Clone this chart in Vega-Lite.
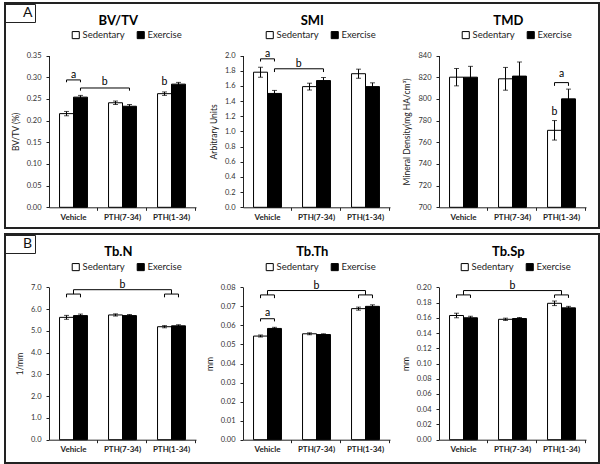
{
  "$schema": "https://vega.github.io/schema/vega-lite/v6.json",
  "padding": {"left": 3, "right": 3, "top": 2, "bottom": 2},
  "spacing": 4,
  "resolve": {"scale": {"shape": "independent"}, "legend": {"shape": "independent"}},
  "datasets": {
    "bvtv": [
      {"group": "Vehicle", "cond": "Sedentary", "mean": 0.216, "lo": 0.211, "hi": 0.221},
      {"group": "Vehicle", "cond": "Exercise", "mean": 0.254, "lo": 0.250, "hi": 0.258},
      {"group": "PTH(7-34)", "cond": "Sedentary", "mean": 0.241, "lo": 0.237, "hi": 0.245},
      {"group": "PTH(7-34)", "cond": "Exercise", "mean": 0.233, "lo": 0.229, "hi": 0.237},
      {"group": "PTH(1-34)", "cond": "Sedentary", "mean": 0.262, "lo": 0.258, "hi": 0.266},
      {"group": "PTH(1-34)", "cond": "Exercise", "mean": 0.284, "lo": 0.280, "hi": 0.288}
    ],
    "bvtv_br": [
      {"id": "a", "o": 0, "group": "Vehicle", "cond": "Sedentary", "y": 0.2883},
      {"id": "a", "o": 1, "group": "Vehicle", "cond": "Sedentary", "y": 0.2937},
      {"id": "a", "o": 2, "group": "Vehicle", "cond": "Exercise", "y": 0.2937},
      {"id": "a", "o": 3, "group": "Vehicle", "cond": "Exercise", "y": 0.2883},
      {"id": "b", "o": 0, "group": "Vehicle", "cond": "Exercise", "y": 0.2689},
      {"id": "b", "o": 1, "group": "Vehicle", "cond": "Exercise", "y": 0.2751},
      {"id": "b", "o": 2, "group": "PTH(7-34)", "cond": "Exercise", "y": 0.2751},
      {"id": "b", "o": 3, "group": "PTH(7-34)", "cond": "Exercise", "y": 0.2689}
    ],
    "bvtv_lc": [{"group": "Vehicle", "y": 0.306, "label": "a"}],
    "bvtv_lm": [{"group": "Vehicle", "y": 0.290, "label": "b"}],
    "bvtv_lx": [{"group": "PTH(1-34)", "cond": "Sedentary", "y": 0.290, "label": "b"}],
    "smi": [
      {"group": "Vehicle", "cond": "Sedentary", "mean": 1.78, "lo": 1.715, "hi": 1.845},
      {"group": "Vehicle", "cond": "Exercise", "mean": 1.50, "lo": 1.46, "hi": 1.54},
      {"group": "PTH(7-34)", "cond": "Sedentary", "mean": 1.59, "lo": 1.545, "hi": 1.635},
      {"group": "PTH(7-34)", "cond": "Exercise", "mean": 1.67, "lo": 1.63, "hi": 1.71},
      {"group": "PTH(1-34)", "cond": "Sedentary", "mean": 1.76, "lo": 1.70, "hi": 1.82},
      {"group": "PTH(1-34)", "cond": "Exercise", "mean": 1.59, "lo": 1.54, "hi": 1.64}
    ],
    "smi_br": [
      {"id": "a", "o": 0, "group": "Vehicle", "cond": "Sedentary", "y": 1.921},
      {"id": "a", "o": 1, "group": "Vehicle", "cond": "Sedentary", "y": 1.956},
      {"id": "a", "o": 2, "group": "Vehicle", "cond": "Exercise", "y": 1.956},
      {"id": "a", "o": 3, "group": "Vehicle", "cond": "Exercise", "y": 1.921},
      {"id": "b", "o": 0, "group": "Vehicle", "cond": "Exercise", "y": 1.782},
      {"id": "b", "o": 1, "group": "Vehicle", "cond": "Exercise", "y": 1.825},
      {"id": "b", "o": 2, "group": "PTH(7-34)", "cond": "Exercise", "y": 1.825},
      {"id": "b", "o": 3, "group": "PTH(7-34)", "cond": "Exercise", "y": 1.782}
    ],
    "smi_lc": [{"group": "Vehicle", "y": 2.022, "label": "a"}],
    "smi_lm": [{"group": "Vehicle", "y": 1.89, "label": "b"}],
    "tmd": [
      {"group": "Vehicle", "cond": "Sedentary", "mean": 820, "lo": 812, "hi": 828},
      {"group": "Vehicle", "cond": "Exercise", "mean": 820, "lo": 810, "hi": 830},
      {"group": "PTH(7-34)", "cond": "Sedentary", "mean": 818.5, "lo": 808, "hi": 829},
      {"group": "PTH(7-34)", "cond": "Exercise", "mean": 821, "lo": 808, "hi": 834},
      {"group": "PTH(1-34)", "cond": "Sedentary", "mean": 771, "lo": 762, "hi": 780},
      {"group": "PTH(1-34)", "cond": "Exercise", "mean": 800, "lo": 791, "hi": 809}
    ],
    "tmd_br": [
      {"id": "a", "o": 0, "group": "PTH(1-34)", "cond": "Sedentary", "y": 812},
      {"id": "a", "o": 1, "group": "PTH(1-34)", "cond": "Sedentary", "y": 815},
      {"id": "a", "o": 2, "group": "PTH(1-34)", "cond": "Exercise", "y": 815},
      {"id": "a", "o": 3, "group": "PTH(1-34)", "cond": "Exercise", "y": 812}
    ],
    "tmd_lc": [{"group": "PTH(1-34)", "y": 823, "label": "a"}],
    "tmd_lx": [{"group": "PTH(1-34)", "cond": "Sedentary", "y": 788, "label": "b"}],
    "tbn": [
      {"group": "Vehicle", "cond": "Sedentary", "mean": 5.62, "lo": 5.53, "hi": 5.71},
      {"group": "Vehicle", "cond": "Exercise", "mean": 5.70, "lo": 5.63, "hi": 5.77},
      {"group": "PTH(7-34)", "cond": "Sedentary", "mean": 5.73, "lo": 5.68, "hi": 5.78},
      {"group": "PTH(7-34)", "cond": "Exercise", "mean": 5.70, "lo": 5.65, "hi": 5.75},
      {"group": "PTH(1-34)", "cond": "Sedentary", "mean": 5.19, "lo": 5.14, "hi": 5.24},
      {"group": "PTH(1-34)", "cond": "Exercise", "mean": 5.23, "lo": 5.18, "hi": 5.28}
    ],
    "tbn_br": [
      {"id": "L", "o": 0, "group": "Vehicle", "cond": "Sedentary", "y": 6.54},
      {"id": "L", "o": 1, "group": "Vehicle", "cond": "Sedentary", "y": 6.69},
      {"id": "L", "o": 2, "group": "Vehicle", "cond": "Exercise", "y": 6.69},
      {"id": "L", "o": 3, "group": "Vehicle", "cond": "Exercise", "y": 6.54},
      {"id": "R", "o": 0, "group": "PTH(1-34)", "cond": "Sedentary", "y": 6.54},
      {"id": "R", "o": 1, "group": "PTH(1-34)", "cond": "Sedentary", "y": 6.69},
      {"id": "R", "o": 2, "group": "PTH(1-34)", "cond": "Exercise", "y": 6.69},
      {"id": "R", "o": 3, "group": "PTH(1-34)", "cond": "Exercise", "y": 6.54}
    ],
    "tbn_cr": [
      {"g1": "Vehicle", "g2": "Vehicle", "y1": 6.69, "y2": 6.89},
      {"g1": "PTH(1-34)", "g2": "PTH(1-34)", "y1": 6.69, "y2": 6.89},
      {"g1": "Vehicle", "g2": "PTH(1-34)", "y1": 6.89, "y2": 6.89}
    ],
    "tbn_lc": [{"group": "PTH(7-34)", "y": 7.12, "label": "b"}],
    "tbth": [
      {"group": "Vehicle", "cond": "Sedentary", "mean": 0.0544, "lo": 0.0539, "hi": 0.0549},
      {"group": "Vehicle", "cond": "Exercise", "mean": 0.0584, "lo": 0.0578, "hi": 0.0590},
      {"group": "PTH(7-34)", "cond": "Sedentary", "mean": 0.0556, "lo": 0.0551, "hi": 0.0561},
      {"group": "PTH(7-34)", "cond": "Exercise", "mean": 0.0552, "lo": 0.0548, "hi": 0.0556},
      {"group": "PTH(1-34)", "cond": "Sedentary", "mean": 0.0688, "lo": 0.0680, "hi": 0.0696},
      {"group": "PTH(1-34)", "cond": "Exercise", "mean": 0.0700, "lo": 0.0692, "hi": 0.0708}
    ],
    "tbth_br": [
      {"id": "L", "o": 0, "group": "Vehicle", "cond": "Sedentary", "y": 0.0743},
      {"id": "L", "o": 1, "group": "Vehicle", "cond": "Sedentary", "y": 0.0760},
      {"id": "L", "o": 2, "group": "Vehicle", "cond": "Exercise", "y": 0.0760},
      {"id": "L", "o": 3, "group": "Vehicle", "cond": "Exercise", "y": 0.0743},
      {"id": "R", "o": 0, "group": "PTH(1-34)", "cond": "Sedentary", "y": 0.0743},
      {"id": "R", "o": 1, "group": "PTH(1-34)", "cond": "Sedentary", "y": 0.0760},
      {"id": "R", "o": 2, "group": "PTH(1-34)", "cond": "Exercise", "y": 0.0760},
      {"id": "R", "o": 3, "group": "PTH(1-34)", "cond": "Exercise", "y": 0.0743},
      {"id": "A", "o": 0, "group": "Vehicle", "cond": "Sedentary", "y": 0.0621},
      {"id": "A", "o": 1, "group": "Vehicle", "cond": "Sedentary", "y": 0.0635},
      {"id": "A", "o": 2, "group": "Vehicle", "cond": "Exercise", "y": 0.0635},
      {"id": "A", "o": 3, "group": "Vehicle", "cond": "Exercise", "y": 0.0621}
    ],
    "tbth_cr": [
      {"g1": "Vehicle", "g2": "Vehicle", "y1": 0.0760, "y2": 0.0783},
      {"g1": "PTH(1-34)", "g2": "PTH(1-34)", "y1": 0.0760, "y2": 0.0783},
      {"g1": "Vehicle", "g2": "PTH(1-34)", "y1": 0.0783, "y2": 0.0783}
    ],
    "tbth_lc": [{"group": "Vehicle", "y": 0.0664, "label": "a"}, {"group": "PTH(7-34)", "y": 0.0809, "label": "b"}],
    "tbsp": [
      {"group": "Vehicle", "cond": "Sedentary", "mean": 0.163, "lo": 0.160, "hi": 0.166},
      {"group": "Vehicle", "cond": "Exercise", "mean": 0.160, "lo": 0.158, "hi": 0.162},
      {"group": "PTH(7-34)", "cond": "Sedentary", "mean": 0.158, "lo": 0.1565, "hi": 0.1595},
      {"group": "PTH(7-34)", "cond": "Exercise", "mean": 0.159, "lo": 0.1575, "hi": 0.1605},
      {"group": "PTH(1-34)", "cond": "Sedentary", "mean": 0.179, "lo": 0.176, "hi": 0.182},
      {"group": "PTH(1-34)", "cond": "Exercise", "mean": 0.173, "lo": 0.171, "hi": 0.175}
    ],
    "tbsp_br": [
      {"id": "L", "o": 0, "group": "Vehicle", "cond": "Sedentary", "y": 0.1861},
      {"id": "L", "o": 1, "group": "Vehicle", "cond": "Sedentary", "y": 0.190},
      {"id": "L", "o": 2, "group": "Vehicle", "cond": "Exercise", "y": 0.190},
      {"id": "L", "o": 3, "group": "Vehicle", "cond": "Exercise", "y": 0.1861},
      {"id": "R", "o": 0, "group": "PTH(1-34)", "cond": "Sedentary", "y": 0.1861},
      {"id": "R", "o": 1, "group": "PTH(1-34)", "cond": "Sedentary", "y": 0.190},
      {"id": "R", "o": 2, "group": "PTH(1-34)", "cond": "Exercise", "y": 0.190},
      {"id": "R", "o": 3, "group": "PTH(1-34)", "cond": "Exercise", "y": 0.1861}
    ],
    "tbsp_cr": [
      {"g1": "Vehicle", "g2": "Vehicle", "y1": 0.190, "y2": 0.1957},
      {"g1": "PTH(1-34)", "g2": "PTH(1-34)", "y1": 0.190, "y2": 0.1957},
      {"g1": "Vehicle", "g2": "PTH(1-34)", "y1": 0.1957, "y2": 0.1957}
    ],
    "tbsp_lc": [{"group": "PTH(7-34)", "y": 0.2022, "label": "b"}]
  },
  "vconcat": [
    {
      "width": 594,
      "height": 225,
      "resolve": {"scale": {"x": "independent", "y": "independent", "xOffset": "independent", "fill": "independent"}, "legend": {"fill": "independent"}},
      "layer": [
        {
          "layer": [
            {"data": {"name": "bvtv"}, "mark": {"type": "bar", "stroke": "black", "strokeWidth": 1},
             "encoding": {
               "x": {"field": "group", "type": "nominal", "scale": {"domain": ["Vehicle", "PTH(7-34)", "PTH(1-34)"], "range": [44, 191], "paddingInner": 0.43, "paddingOuter": 0.215}, "axis": {"title": null, "offset": -20.7, "orient": "bottom"}},
               "xOffset": {"field": "cond", "type": "nominal", "scale": {"domain": ["Sedentary", "Exercise"], "paddingInner": 0, "paddingOuter": 0}},
               "y": {"field": "mean", "type": "quantitative", "scale": {"domain": [0, 0.35], "range": [204.3, 52.5], "nice": false}, "axis": {"title": "BV/TV (%)", "orient": "left", "offset": -44, "values": [0, 0.05, 0.1, 0.15, 0.2, 0.25, 0.3, 0.35], "tickCount": 30, "format": ".2f", "labelOverlap": false}},
               "fill": {"field": "cond", "type": "nominal", "scale": {"domain": ["Sedentary", "Exercise"], "range": ["white", "black"]}, "legend": {"title": null, "legendX": 66, "legendY": 27}}
             }},
            {"data": {"name": "bvtv"}, "mark": "rule",
             "encoding": {"x": {"field": "group", "type": "nominal"}, "xOffset": {"field": "cond", "type": "nominal"}, "y": {"field": "lo", "type": "quantitative"}, "y2": {"field": "hi"}}},
            {"data": {"name": "bvtv"}, "mark": {"type": "tick", "size": 5, "thickness": 1, "color": "black"},
             "encoding": {"x": {"field": "group", "type": "nominal"}, "xOffset": {"field": "cond", "type": "nominal"}, "y": {"field": "lo", "type": "quantitative"}}},
            {"data": {"name": "bvtv"}, "mark": {"type": "tick", "size": 5, "thickness": 1, "color": "black"},
             "encoding": {"x": {"field": "group", "type": "nominal"}, "xOffset": {"field": "cond", "type": "nominal"}, "y": {"field": "hi", "type": "quantitative"}}},
            {"data": {"name": "bvtv_br"}, "mark": "line",
             "encoding": {"x": {"field": "group", "type": "nominal"}, "xOffset": {"field": "cond", "type": "nominal"}, "y": {"field": "y", "type": "quantitative"}, "detail": {"field": "id"}, "order": {"field": "o"}}},
            {"data": {"name": "bvtv_lc"}, "mark": {"type": "text", "fill": "black"},
             "encoding": {"x": {"field": "group", "type": "nominal"}, "y": {"field": "y", "type": "quantitative"}, "text": {"field": "label"}}},
            {"data": {"name": "bvtv_lm"}, "mark": {"type": "text", "fill": "black"},
             "encoding": {"x": {"field": "group", "type": "nominal", "bandPosition": 1.62}, "y": {"field": "y", "type": "quantitative"}, "text": {"field": "label"}}},
            {"data": {"name": "bvtv_lx"}, "mark": {"type": "text", "fill": "black"},
             "encoding": {"x": {"field": "group", "type": "nominal"}, "xOffset": {"field": "cond", "type": "nominal"}, "y": {"field": "y", "type": "quantitative"}, "text": {"field": "label"}}},
            {"data": {"values": [{"t": "BV/TV"}]}, "mark": {"type": "text", "fontSize": 13, "fontWeight": "bold", "fill": "black"},
             "encoding": {"x": {"datum": "PTH(7-34)", "bandPosition": 0.35}, "y": {"datum": 0.4296}, "text": {"field": "t"}}}
          ]
        },
        {
          "layer": [
            {"data": {"name": "smi"}, "mark": {"type": "bar", "stroke": "black", "strokeWidth": 1},
             "encoding": {
               "x": {"field": "group", "type": "nominal", "scale": {"domain": ["Vehicle", "PTH(7-34)", "PTH(1-34)"], "range": [238, 385], "paddingInner": 0.43, "paddingOuter": 0.215}, "axis": {"title": null, "offset": -20.7, "orient": "bottom"}},
               "xOffset": {"field": "cond", "type": "nominal", "scale": {"domain": ["Sedentary", "Exercise"], "paddingInner": 0, "paddingOuter": 0}},
               "y": {"field": "mean", "type": "quantitative", "scale": {"domain": [0, 2], "range": [204.3, 52.5], "nice": false}, "axis": {"title": "Arbitrary Units", "orient": "left", "offset": -238, "values": [0, 0.2, 0.4, 0.6, 0.8, 1, 1.2, 1.4, 1.6, 1.8, 2], "tickCount": 30, "format": ".1f", "labelOverlap": false}},
               "fill": {"field": "cond", "type": "nominal", "scale": {"domain": ["Sedentary", "Exercise"], "range": ["white", "black"]}, "legend": {"title": null, "legendX": 260, "legendY": 27}}
             }},
            {"data": {"name": "smi"}, "mark": "rule",
             "encoding": {"x": {"field": "group", "type": "nominal"}, "xOffset": {"field": "cond", "type": "nominal"}, "y": {"field": "lo", "type": "quantitative"}, "y2": {"field": "hi"}}},
            {"data": {"name": "smi"}, "mark": {"type": "tick", "size": 5, "thickness": 1, "color": "black"},
             "encoding": {"x": {"field": "group", "type": "nominal"}, "xOffset": {"field": "cond", "type": "nominal"}, "y": {"field": "lo", "type": "quantitative"}}},
            {"data": {"name": "smi"}, "mark": {"type": "tick", "size": 5, "thickness": 1, "color": "black"},
             "encoding": {"x": {"field": "group", "type": "nominal"}, "xOffset": {"field": "cond", "type": "nominal"}, "y": {"field": "hi", "type": "quantitative"}}},
            {"data": {"name": "smi_br"}, "mark": "line",
             "encoding": {"x": {"field": "group", "type": "nominal"}, "xOffset": {"field": "cond", "type": "nominal"}, "y": {"field": "y", "type": "quantitative"}, "detail": {"field": "id"}, "order": {"field": "o"}}},
            {"data": {"name": "smi_lc"}, "mark": {"type": "text", "fill": "black"},
             "encoding": {"x": {"field": "group", "type": "nominal"}, "y": {"field": "y", "type": "quantitative"}, "text": {"field": "label"}}},
            {"data": {"name": "smi_lm"}, "mark": {"type": "text", "fill": "black"},
             "encoding": {"x": {"field": "group", "type": "nominal", "bandPosition": 1.62}, "y": {"field": "y", "type": "quantitative"}, "text": {"field": "label"}}},
            {"data": {"values": [{"t": "SMI"}]}, "mark": {"type": "text", "fontSize": 13, "fontWeight": "bold", "fill": "black"},
             "encoding": {"x": {"datum": "PTH(7-34)", "bandPosition": 0.35}, "y": {"datum": 2.4546}, "text": {"field": "t"}}}
          ]
        },
        {
          "layer": [
            {"data": {"name": "tmd"}, "mark": {"type": "bar", "stroke": "black", "strokeWidth": 1},
             "encoding": {
               "x": {"field": "group", "type": "nominal", "scale": {"domain": ["Vehicle", "PTH(7-34)", "PTH(1-34)"], "range": [434, 581], "paddingInner": 0.43, "paddingOuter": 0.215}, "axis": {"title": null, "offset": -20.7, "orient": "bottom"}},
               "xOffset": {"field": "cond", "type": "nominal", "scale": {"domain": ["Sedentary", "Exercise"], "paddingInner": 0, "paddingOuter": 0}},
               "y": {"field": "mean", "type": "quantitative", "scale": {"domain": [700, 840], "range": [204.3, 52.5], "nice": false, "zero": false}, "axis": {"title": "Mineral Density(mg HA/cm³)", "orient": "left", "offset": -434, "values": [700, 720, 740, 760, 780, 800, 820, 840], "tickCount": 30, "format": "d", "labelOverlap": false}},
               "y2": {"datum": 700},
               "fill": {"field": "cond", "type": "nominal", "scale": {"domain": ["Sedentary", "Exercise"], "range": ["white", "black"]}, "legend": {"title": null, "legendX": 456, "legendY": 27}}
             }},
            {"data": {"name": "tmd"}, "mark": "rule",
             "encoding": {"x": {"field": "group", "type": "nominal"}, "xOffset": {"field": "cond", "type": "nominal"}, "y": {"field": "lo", "type": "quantitative"}, "y2": {"field": "hi"}}},
            {"data": {"name": "tmd"}, "mark": {"type": "tick", "size": 5, "thickness": 1, "color": "black"},
             "encoding": {"x": {"field": "group", "type": "nominal"}, "xOffset": {"field": "cond", "type": "nominal"}, "y": {"field": "lo", "type": "quantitative"}}},
            {"data": {"name": "tmd"}, "mark": {"type": "tick", "size": 5, "thickness": 1, "color": "black"},
             "encoding": {"x": {"field": "group", "type": "nominal"}, "xOffset": {"field": "cond", "type": "nominal"}, "y": {"field": "hi", "type": "quantitative"}}},
            {"data": {"name": "tmd_br"}, "mark": "line",
             "encoding": {"x": {"field": "group", "type": "nominal"}, "xOffset": {"field": "cond", "type": "nominal"}, "y": {"field": "y", "type": "quantitative"}, "detail": {"field": "id"}, "order": {"field": "o"}}},
            {"data": {"name": "tmd_lc"}, "mark": {"type": "text", "fill": "black"},
             "encoding": {"x": {"field": "group", "type": "nominal"}, "y": {"field": "y", "type": "quantitative"}, "text": {"field": "label"}}},
            {"data": {"name": "tmd_lx"}, "mark": {"type": "text", "fill": "black"},
             "encoding": {"x": {"field": "group", "type": "nominal"}, "xOffset": {"field": "cond", "type": "nominal"}, "y": {"field": "y", "type": "quantitative"}, "text": {"field": "label"}}},
            {"data": {"values": [{"t": "TMD"}]}, "mark": {"type": "text", "fontSize": 13, "fontWeight": "bold", "fill": "black"},
             "encoding": {"x": {"datum": "PTH(7-34)", "bandPosition": 0.35}, "y": {"datum": 871.8}, "text": {"field": "t"}}}
          ]
        },
        {"data": {"values": [{"sec": "A"}]}, "mark": {"type": "point", "opacity": 0},
         "encoding": {"shape": {"field": "sec", "type": "nominal", "legend": {"title": null, "legendX": 0, "legendY": 1, "strokeColor": "#222", "padding": 2, "symbolSize": 16, "symbolOpacity": 0, "symbolStrokeWidth": 0, "labelFontSize": 14, "labelColor": "#111", "labelOffset": 2}}}}
      ]
    },
    {
      "width": 594,
      "height": 229,
      "resolve": {"scale": {"x": "independent", "y": "independent", "xOffset": "independent", "fill": "independent"}, "legend": {"fill": "independent"}},
      "layer": [
        {
          "layer": [
            {"data": {"name": "tbn"}, "mark": {"type": "bar", "stroke": "black", "strokeWidth": 1},
             "encoding": {
               "x": {"field": "group", "type": "nominal", "scale": {"domain": ["Vehicle", "PTH(7-34)", "PTH(1-34)"], "range": [44, 191], "paddingInner": 0.43, "paddingOuter": 0.215}, "axis": {"title": null, "offset": -23.3, "orient": "bottom"}},
               "xOffset": {"field": "cond", "type": "nominal", "scale": {"domain": ["Sedentary", "Exercise"], "paddingInner": 0, "paddingOuter": 0}},
               "y": {"field": "mean", "type": "quantitative", "scale": {"domain": [0, 7], "range": [205.7, 53.3], "nice": false}, "axis": {"title": "1/mm", "orient": "left", "offset": -44, "values": [0, 1, 2, 3, 4, 5, 6, 7], "tickCount": 30, "format": ".1f", "labelOverlap": false}},
               "fill": {"field": "cond", "type": "nominal", "scale": {"domain": ["Sedentary", "Exercise"], "range": ["white", "black"]}, "legend": {"title": null, "legendX": 66, "legendY": 28}}
             }},
            {"data": {"name": "tbn"}, "mark": "rule",
             "encoding": {"x": {"field": "group", "type": "nominal"}, "xOffset": {"field": "cond", "type": "nominal"}, "y": {"field": "lo", "type": "quantitative"}, "y2": {"field": "hi"}}},
            {"data": {"name": "tbn"}, "mark": {"type": "tick", "size": 5, "thickness": 1, "color": "black"},
             "encoding": {"x": {"field": "group", "type": "nominal"}, "xOffset": {"field": "cond", "type": "nominal"}, "y": {"field": "lo", "type": "quantitative"}}},
            {"data": {"name": "tbn"}, "mark": {"type": "tick", "size": 5, "thickness": 1, "color": "black"},
             "encoding": {"x": {"field": "group", "type": "nominal"}, "xOffset": {"field": "cond", "type": "nominal"}, "y": {"field": "hi", "type": "quantitative"}}},
            {"data": {"name": "tbn_br"}, "mark": "line",
             "encoding": {"x": {"field": "group", "type": "nominal"}, "xOffset": {"field": "cond", "type": "nominal"}, "y": {"field": "y", "type": "quantitative"}, "detail": {"field": "id"}, "order": {"field": "o"}}},
            {"data": {"name": "tbn_cr"}, "mark": "rule",
             "encoding": {"x": {"field": "g1", "type": "nominal"}, "x2": {"field": "g2"}, "y": {"field": "y1", "type": "quantitative"}, "y2": {"field": "y2"}}},
            {"data": {"name": "tbn_lc"}, "mark": {"type": "text", "fill": "black"},
             "encoding": {"x": {"field": "group", "type": "nominal"}, "y": {"field": "y", "type": "quantitative"}, "text": {"field": "label"}}},
            {"data": {"values": [{"t": "Tb.N"}]}, "mark": {"type": "text", "fontSize": 13, "fontWeight": "bold", "fill": "black"},
             "encoding": {"x": {"datum": "PTH(7-34)", "bandPosition": 0.35}, "y": {"datum": 8.621}, "text": {"field": "t"}}}
          ]
        },
        {
          "layer": [
            {"data": {"name": "tbth"}, "mark": {"type": "bar", "stroke": "black", "strokeWidth": 1},
             "encoding": {
               "x": {"field": "group", "type": "nominal", "scale": {"domain": ["Vehicle", "PTH(7-34)", "PTH(1-34)"], "range": [238, 385], "paddingInner": 0.43, "paddingOuter": 0.215}, "axis": {"title": null, "offset": -23.3, "orient": "bottom"}},
               "xOffset": {"field": "cond", "type": "nominal", "scale": {"domain": ["Sedentary", "Exercise"], "paddingInner": 0, "paddingOuter": 0}},
               "y": {"field": "mean", "type": "quantitative", "scale": {"domain": [0, 0.08], "range": [205.7, 53.3], "nice": false}, "axis": {"title": "mm", "orient": "left", "offset": -238, "values": [0, 0.01, 0.02, 0.03, 0.04, 0.05, 0.06, 0.07, 0.08], "tickCount": 30, "format": ".2f", "labelOverlap": false}},
               "fill": {"field": "cond", "type": "nominal", "scale": {"domain": ["Sedentary", "Exercise"], "range": ["white", "black"]}, "legend": {"title": null, "legendX": 260, "legendY": 28}}
             }},
            {"data": {"name": "tbth"}, "mark": "rule",
             "encoding": {"x": {"field": "group", "type": "nominal"}, "xOffset": {"field": "cond", "type": "nominal"}, "y": {"field": "lo", "type": "quantitative"}, "y2": {"field": "hi"}}},
            {"data": {"name": "tbth"}, "mark": {"type": "tick", "size": 5, "thickness": 1, "color": "black"},
             "encoding": {"x": {"field": "group", "type": "nominal"}, "xOffset": {"field": "cond", "type": "nominal"}, "y": {"field": "lo", "type": "quantitative"}}},
            {"data": {"name": "tbth"}, "mark": {"type": "tick", "size": 5, "thickness": 1, "color": "black"},
             "encoding": {"x": {"field": "group", "type": "nominal"}, "xOffset": {"field": "cond", "type": "nominal"}, "y": {"field": "hi", "type": "quantitative"}}},
            {"data": {"name": "tbth_br"}, "mark": "line",
             "encoding": {"x": {"field": "group", "type": "nominal"}, "xOffset": {"field": "cond", "type": "nominal"}, "y": {"field": "y", "type": "quantitative"}, "detail": {"field": "id"}, "order": {"field": "o"}}},
            {"data": {"name": "tbth_cr"}, "mark": "rule",
             "encoding": {"x": {"field": "g1", "type": "nominal"}, "x2": {"field": "g2"}, "y": {"field": "y1", "type": "quantitative"}, "y2": {"field": "y2"}}},
            {"data": {"name": "tbth_lc"}, "mark": {"type": "text", "fill": "black"},
             "encoding": {"x": {"field": "group", "type": "nominal"}, "y": {"field": "y", "type": "quantitative"}, "text": {"field": "label"}}},
            {"data": {"values": [{"t": "Tb.Th"}]}, "mark": {"type": "text", "fontSize": 13, "fontWeight": "bold", "fill": "black"},
             "encoding": {"x": {"datum": "PTH(7-34)", "bandPosition": 0.35}, "y": {"datum": 0.09853}, "text": {"field": "t"}}}
          ]
        },
        {
          "layer": [
            {"data": {"name": "tbsp"}, "mark": {"type": "bar", "stroke": "black", "strokeWidth": 1},
             "encoding": {
               "x": {"field": "group", "type": "nominal", "scale": {"domain": ["Vehicle", "PTH(7-34)", "PTH(1-34)"], "range": [434, 581], "paddingInner": 0.43, "paddingOuter": 0.215}, "axis": {"title": null, "offset": -23.3, "orient": "bottom"}},
               "xOffset": {"field": "cond", "type": "nominal", "scale": {"domain": ["Sedentary", "Exercise"], "paddingInner": 0, "paddingOuter": 0}},
               "y": {"field": "mean", "type": "quantitative", "scale": {"domain": [0, 0.2], "range": [205.7, 53.3], "nice": false}, "axis": {"title": "mm", "orient": "left", "offset": -434, "values": [0, 0.02, 0.04, 0.06, 0.08, 0.1, 0.12, 0.14, 0.16, 0.18, 0.2], "tickCount": 30, "format": ".2f", "labelOverlap": false}},
               "fill": {"field": "cond", "type": "nominal", "scale": {"domain": ["Sedentary", "Exercise"], "range": ["white", "black"]}, "legend": {"title": null, "legendX": 455, "legendY": 28}}
             }},
            {"data": {"name": "tbsp"}, "mark": "rule",
             "encoding": {"x": {"field": "group", "type": "nominal"}, "xOffset": {"field": "cond", "type": "nominal"}, "y": {"field": "lo", "type": "quantitative"}, "y2": {"field": "hi"}}},
            {"data": {"name": "tbsp"}, "mark": {"type": "tick", "size": 5, "thickness": 1, "color": "black"},
             "encoding": {"x": {"field": "group", "type": "nominal"}, "xOffset": {"field": "cond", "type": "nominal"}, "y": {"field": "lo", "type": "quantitative"}}},
            {"data": {"name": "tbsp"}, "mark": {"type": "tick", "size": 5, "thickness": 1, "color": "black"},
             "encoding": {"x": {"field": "group", "type": "nominal"}, "xOffset": {"field": "cond", "type": "nominal"}, "y": {"field": "hi", "type": "quantitative"}}},
            {"data": {"name": "tbsp_br"}, "mark": "line",
             "encoding": {"x": {"field": "group", "type": "nominal"}, "xOffset": {"field": "cond", "type": "nominal"}, "y": {"field": "y", "type": "quantitative"}, "detail": {"field": "id"}, "order": {"field": "o"}}},
            {"data": {"name": "tbsp_cr"}, "mark": "rule",
             "encoding": {"x": {"field": "g1", "type": "nominal"}, "x2": {"field": "g2"}, "y": {"field": "y1", "type": "quantitative"}, "y2": {"field": "y2"}}},
            {"data": {"name": "tbsp_lc"}, "mark": {"type": "text", "fill": "black"},
             "encoding": {"x": {"field": "group", "type": "nominal"}, "y": {"field": "y", "type": "quantitative"}, "text": {"field": "label"}}},
            {"data": {"values": [{"t": "Tb.Sp"}]}, "mark": {"type": "text", "fontSize": 13, "fontWeight": "bold", "fill": "black"},
             "encoding": {"x": {"datum": "PTH(7-34)", "bandPosition": 0.35}, "y": {"datum": 0.2463}, "text": {"field": "t"}}}
          ]
        },
        {"data": {"values": [{"sec": "B"}]}, "mark": {"type": "point", "opacity": 0},
         "encoding": {"shape": {"field": "sec", "type": "nominal", "legend": {"title": null, "legendX": 0, "legendY": 1, "strokeColor": "#222", "padding": 2, "symbolSize": 16, "symbolOpacity": 0, "symbolStrokeWidth": 0, "labelFontSize": 14, "labelColor": "#111", "labelOffset": 2}}}}
      ]
    }
  ],
  "config": {
    "font": "Lato",
    "view": {"stroke": "#222", "strokeWidth": 2},
    "axis": {"grid": false, "domainColor": "#222", "tickColor": "#222", "labelColor": "#333", "titleColor": "#222", "titleFontWeight": "normal", "labelFont": "Lato", "titleFont": "Lato"},
    "axisY": {"labelFontSize": 7.5, "tickSize": 3, "labelPadding": 5, "titleFontSize": 8.5, "titlePadding": 6, "labelOverlap": false, "tickCount": 30},
    "axisX": {"labelFontSize": 8, "labelFontWeight": "bold", "labelColor": "#222", "tickSize": 3, "labelPadding": 3, "labelAngle": 0, "bandPosition": 1.375},
    "legend": {"orient": "none", "direction": "horizontal", "symbolType": "square", "symbolSize": 50, "symbolStrokeColor": "black", "symbolStrokeWidth": 1, "labelFont": "Lato", "labelFontSize": 9.5, "labelColor": "#222", "labelOffset": 2, "columnPadding": 10, "padding": 0},
    "line": {"color": "black", "strokeWidth": 1},
    "rule": {"color": "black", "strokeWidth": 1},
    "text": {"font": "Lato", "fontSize": 10.5}
  }
}
